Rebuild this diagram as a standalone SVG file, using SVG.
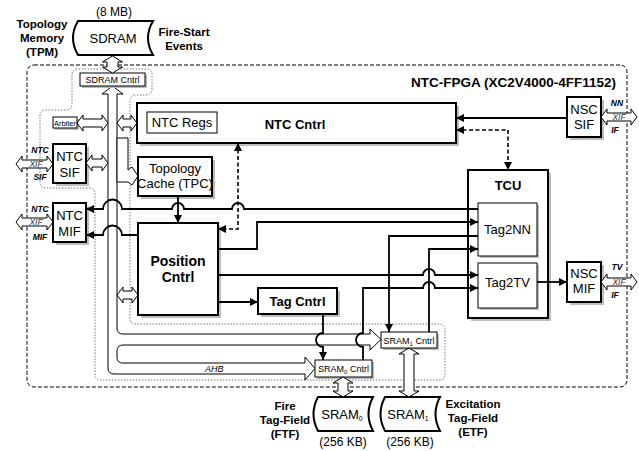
<svg xmlns="http://www.w3.org/2000/svg" width="639" height="451" viewBox="0 0 639 451">
<style>
text{font-family:"Liberation Sans",Arial,sans-serif;fill:#000}
.t{font-size:13px;text-anchor:middle}
.b{font-size:13px;font-weight:bold;text-anchor:middle}
.lb{font-size:11.5px;font-weight:bold;text-anchor:middle}
.s{font-size:9px;text-anchor:middle}
.xi{font-size:8.5px;font-style:italic;text-anchor:middle;fill:#333}
.xb{font-size:8.5px;font-style:italic;font-weight:bold;text-anchor:middle}
.box{fill:#fff;stroke:#000;stroke-width:2}
.tb{fill:#fff;stroke:#000;stroke-width:1}
.sh{fill:#bdbdbd}
.da{fill:#fff;stroke:#000;stroke-width:1}
.w{fill:none;stroke:#000;stroke-width:1.8}
.d{fill:none;stroke:#000;stroke-width:1.6;stroke-dasharray:4,2.5}
.dot{fill:none;stroke:#777;stroke-width:1;stroke-dasharray:1.5,1.5}
</style>
<defs>
<marker id="a" viewBox="0 0 10 10" refX="10" refY="5" markerWidth="8" markerHeight="8" markerUnits="userSpaceOnUse" orient="auto-start-reverse"><path d="M0,0 L10,5 L0,10 z" fill="#000"/></marker>
</defs>

<g id="fpga">
<rect x="27" y="65" width="600" height="322" rx="7" fill="none" stroke="#000" stroke-width="1" stroke-dasharray="4,2"/>
<text x="616" y="87" style="font-size:13.5px;font-weight:bold;text-anchor:end">NTC-FPGA (XC2V4000-4FF1152)</text>
</g>

<g id="bus-domain">
<path class="dot" d="M130,101 V318 Q130,324 136,324 H439 Q445,324 445,330 V374 Q445,380 439,380 H101 Q95,380 95,374 V194 Q95,188 89,188 H46 Q40,188 40,182 V116 Q40,110 46,110 H66 Q72,110 72,104 V75 Q72,69 78,69 H146 Q152,69 152,75 V89 Q152,95 146,95 H136 Q130,95 130,101 Z"/>
</g>

<g id="sdram">
<path d="M78,21 H153 Q143,38 153,55 H78 Q68,38 78,21 Z" fill="#fff" stroke="#000" stroke-width="2"/>
<text class="t" x="114" y="16" style="font-size:12px">(8 MB)</text>
<text class="t" x="113" y="43">SDRAM</text>
<text class="lb" x="42" y="28">Topology</text>
<text class="lb" x="42" y="42">Memory</text>
<text class="lb" x="42" y="56">(TPM)</text>
<text class="lb" x="184" y="36">Fire-Start</text>
<text class="lb" x="184" y="50">Events</text>
</g>

<g id="bus">
<path class="da" d="M112.5,86 L123,94 L117,94 V328 Q117,334 123,334 H370 V329 L381,339.5 L370,350 V345 H123 Q117,345 117,351 V357 Q117,363 123,363 H305 V357 L315,368.5 L305,380 V374 H114 Q108,374 108,368 V94 L102,94 Z"/>
<text x="205" y="372" style="font-size:9px;font-style:italic">AHB</text>
</g>

<g id="sdram-cntrl">
<rect class="sh" x="82" y="75" width="65" height="13"/>
<rect class="tb" x="80" y="73" width="65" height="13"/>
<text class="s" x="112.5" y="82.5">SDRAM Cntrl</text>
</g>

<g id="arbiter">
<rect class="sh" x="55" y="119" width="24" height="11"/>
<rect class="tb" x="53" y="117" width="24" height="11"/>
<text class="s" x="65" y="125.5" style="font-size:7.5px">Arbiter</text>
</g>

<g id="ntc-sif">
<rect class="sh" x="56" y="147" width="33" height="39"/>
<rect class="box" x="53" y="144" width="33" height="39"/>
<text class="t" x="69.5" y="161">NTC</text>
<text class="t" x="69.5" y="177">SIF</text>
</g>

<g id="ntc-mif">
<rect class="sh" x="56" y="206" width="33" height="39"/>
<rect class="box" x="53" y="203" width="33" height="39"/>
<text class="t" x="69.5" y="220">NTC</text>
<text class="t" x="69.5" y="236">MIF</text>
</g>

<g id="ntc-cntrl">
<rect class="sh" x="140" y="106" width="319" height="40"/>
<rect class="box" x="137" y="103" width="319" height="40"/>
<rect class="tb" x="147" y="112" width="70" height="21"/>
<text class="t" x="182" y="127">NTC Regs</text>
<text class="b" x="295" y="129">NTC Cntrl</text>
</g>

<g id="tpc">
<rect class="sh" x="141" y="160" width="74" height="39"/>
<rect class="box" x="138" y="157" width="74" height="39"/>
<text class="t" x="175" y="173">Topology</text>
<text class="t" x="175" y="188">Cache (TPC)</text>
</g>

<g id="position-cntrl">
<rect class="sh" x="141" y="226" width="80" height="92"/>
<rect class="box" x="138" y="223" width="80" height="92"/>
<text class="b" x="178" y="266" style="font-size:14px">Position</text>
<text class="b" x="178" y="282" style="font-size:14px">Cntrl</text>
</g>

<g id="tag-cntrl">
<rect class="sh" x="261" y="291" width="79" height="26"/>
<rect class="box" x="258" y="288" width="79" height="26"/>
<text class="b" x="297.5" y="306">Tag Cntrl</text>
</g>

<g id="tcu">
<rect class="sh" x="471" y="173" width="80" height="148"/>
<rect class="box" x="468" y="170" width="80" height="148"/>
<text class="b" x="508" y="190">TCU</text>
</g>

<g id="tag2nn">
<rect class="sh" x="480" y="205" width="59" height="53"/>
<rect class="tb" x="478" y="203" width="59" height="53"/>
<text class="t" x="507.5" y="234">Tag2NN</text>
</g>

<g id="tag2tv">
<rect class="sh" x="480" y="265" width="59" height="45"/>
<rect class="tb" x="478" y="263" width="59" height="45"/>
<text class="t" x="507.5" y="287">Tag2TV</text>
</g>

<g id="nsc-sif">
<rect class="sh" x="570" y="100" width="34" height="40"/>
<rect class="box" x="567" y="97" width="34" height="40"/>
<text class="t" x="584" y="114">NSC</text>
<text class="t" x="584" y="129">SIF</text>
</g>

<g id="nsc-mif">
<rect class="sh" x="570" y="265" width="34" height="40"/>
<rect class="box" x="567" y="262" width="34" height="40"/>
<text class="t" x="584" y="278">NSC</text>
<text class="t" x="584" y="293">MIF</text>
</g>

<g id="sram1-cntrl">
<rect class="sh" x="383" y="334" width="56" height="16"/>
<rect class="tb" x="381" y="332" width="56" height="16"/>
<text class="s" x="409" y="343.5">SRAM<tspan font-size="6" dy="2">1</tspan><tspan dy="-2"> Cntrl</tspan></text>
</g>

<g id="sram0-cntrl">
<rect class="sh" x="317" y="362" width="57" height="17"/>
<rect class="tb" x="315" y="360" width="57" height="17"/>
<text class="s" x="343.5" y="372">SRAM<tspan font-size="6" dy="2">0</tspan><tspan dy="-2"> Cntrl</tspan></text>
</g>

<g id="sram0">
<path d="M318,397 H373 Q364,414 373,431 H318 Q309,414 318,397 Z" fill="#fff" stroke="#000" stroke-width="2"/>
<text class="t" x="342" y="419">SRAM<tspan font-size="7" dy="2">0</tspan></text>
<text class="t" x="343" y="446" style="font-size:12px">(256 KB)</text>
<text class="lb" x="285" y="410">Fire</text>
<text class="lb" x="285" y="424">Tag-Field</text>
<text class="lb" x="285" y="438">(FTF)</text>
</g>

<g id="sram1">
<path d="M385,397 H440 Q431,414 440,431 H385 Q376,414 385,397 Z" fill="#fff" stroke="#000" stroke-width="2"/>
<text class="t" x="408" y="419">SRAM<tspan font-size="7" dy="2">1</tspan></text>
<text class="t" x="410" y="446" style="font-size:12px">(256 KB)</text>
<text class="lb" x="473" y="408">Excitation</text>
<text class="lb" x="473" y="422">Tag-Field</text>
<text class="lb" x="473" y="436">(ETF)</text>
</g>

<g id="connectors">
<!-- hollow double arrows -->
<polygon class="da" points="112.5,56 122.5,62 118,62 118,67 122.5,67 112.5,73 102.5,67 107,67 107,62 102.5,62"/>
<polygon class="da" points="77,123 83,115 83,119 102,119 102,115 108,123 102,131 102,127 83,127 83,131"/>
<polygon class="da" points="86,163 92,155 92,159 102,159 102,155 108,163 102,171 102,167 92,167 92,171"/>
<polygon class="da" points="117,123 123,115 123,119 131,119 131,115 137,123 131,131 131,127 123,127 123,131"/>
<polygon class="da" points="117,138 128,138 128,170 132,167 138,176 132,185 128,182 117,182"/>
<polygon class="da" points="117,295 123,287 123,291 132,291 132,287 138,295 132,303 132,299 123,299 123,303"/>
<polygon class="da" points="343,377 353,383 348,383 348,391 353,391 343,397 333,391 338,391 338,383 333,383"/>
<polygon class="da" points="409,348 419,354 414,354 414,391 419,391 409,397 399,391 404,391 404,354 399,354"/>
<!-- external interfaces -->
<polygon class="da" points="16,164 22,156 22,160 47,160 47,156 53,164 47,172 47,168 22,168 22,172"/>
<text class="xb" x="40" y="153">NTC</text><text class="xi" x="36" y="167">XIF</text><text class="xb" x="40" y="180">SIF</text>
<polygon class="da" points="16,222 22,214 22,218 47,218 47,214 53,222 47,230 47,226 22,226 22,230"/>
<text class="xb" x="40" y="212">NTC</text><text class="xi" x="36" y="225">XIF</text><text class="xb" x="40" y="240">MIF</text>
<polygon class="da" points="601,117 607,109 607,113 631,113 631,109 637,117 631,125 631,121 607,121 607,125"/>
<text class="xb" x="617" y="106">NN</text><text class="xi" x="619" y="120">XIF</text><text class="xb" x="615" y="133">IF</text>
<polygon class="da" points="601,282 607,274 607,278 631,278 631,274 637,282 631,290 631,286 607,286 607,290"/>
<text class="xb" x="617" y="270">TV</text><text class="xi" x="619" y="285">XIF</text><text class="xb" x="615" y="298">IF</text>
<!-- signal wires -->
<path class="w" marker-end="url(#a)" d="M478,209 H244 A6,6 0 0 0 232,209 H184 A6,6 0 0 0 172,209 H122 A9.5,9.5 0 0 0 103,209 H86"/>
<path class="w" marker-end="url(#a)" d="M138,235 H122 A9.5,9.5 0 0 0 103,235 H86"/>
<path class="w" marker-end="url(#a)" d="M218,249 H257 V222 H478"/>
<path class="w" marker-end="url(#a)" d="M478,236 H389 V332"/>
<path class="w" marker-end="url(#a)" d="M429,332 V249 H478"/>
<path class="w" marker-end="url(#a)" d="M218,275 H423 A6,6 0 0 1 435,275 H478"/>
<path class="w" marker-end="url(#a)" d="M363,360 V347 A7,7 0 0 1 363,333 V288 H423 A6,6 0 0 1 435,288 H478"/>
<path class="w" marker-end="url(#a)" d="M218,302 H258"/>
<path class="w" marker-end="url(#a)" d="M323,314 V333 A7,7 0 0 0 323,347 V360"/>
<path class="w" marker-end="url(#a)" d="M178,196 V223"/>
<path class="w" marker-end="url(#a)" d="M567,118 H456"/>
<path class="w" marker-end="url(#a)" d="M537,282 H567"/>
<path class="d" marker-start="url(#a)" marker-end="url(#a)" d="M238,143 V229 H218"/>
<path class="d" marker-start="url(#a)" marker-end="url(#a)" d="M456,130 H508 V170"/>
</g>
</svg>
